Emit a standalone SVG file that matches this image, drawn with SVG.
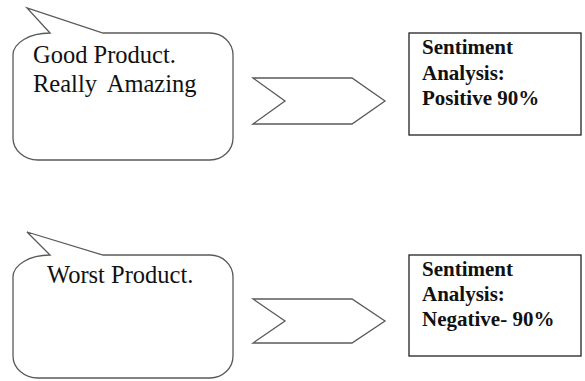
<svg xmlns="http://www.w3.org/2000/svg" width="585" height="381" viewBox="0 0 585 381">
<style>
.bubble{fill:#fff;stroke:#5a5a5a;stroke-width:1.3}
.chev{fill:#fff;stroke:#5a5a5a;stroke-width:1.3;stroke-linejoin:miter}
.box{fill:#fff;stroke:#222;stroke-width:1.3}
.bt{font-family:"Liberation Serif","Times New Roman",serif;font-size:24.5px;fill:#111}
.xt{font-family:"Liberation Serif","Times New Roman",serif;font-size:21px;font-weight:bold;fill:#111}
</style>
<rect width="585" height="381" fill="#fff"/>
<g id="bubble1">
<path class="bubble" d="M50,33 L27,8 L103,33 L210,33 A23,22 0 0 1 233,55 L233,138 A23,22 0 0 1 210,160 L38,160 A25,22 0 0 1 13,138 L13,55 A37,22 0 0 1 50,33 Z"/>
<text class="bt" x="33" y="63">Good Product.</text>
<text class="bt" x="33" y="92" word-spacing="5">Really Amazing</text>
</g>
<g id="bubble2">
<path class="bubble" d="M50,255 L27,232 L103,255 L210,255 A23,22 0 0 1 233,277 L233,356 A23,22 0 0 1 210,378 L38,378 A25,22 0 0 1 13,356 L13,277 A37,22 0 0 1 50,255 Z"/>
<text class="bt" x="47" y="283">Worst Product.</text>
</g>
<g id="connectors">
<polygon id="chevron1" class="chev" points="253,78 352,78 385,101 352,124 253,124 285,101"/>
<polygon id="chevron2" class="chev" points="253,299 352,299 385,321 352,343 253,343 285,321"/>
</g>
<g id="box1">
<rect class="box" x="409" y="33" width="172" height="102"/>
<text class="xt" x="422" y="54">Sentiment</text>
<text class="xt" x="422" y="80">Analysis:</text>
<text class="xt" x="422" y="105">Positive 90%</text>
</g>
<g id="box2">
<rect class="box" x="409" y="255" width="172" height="101"/>
<text class="xt" x="422" y="276">Sentiment</text>
<text class="xt" x="422" y="301">Analysis:</text>
<text class="xt" x="422" y="326">Negative- 90%</text>
</g>
</svg>
